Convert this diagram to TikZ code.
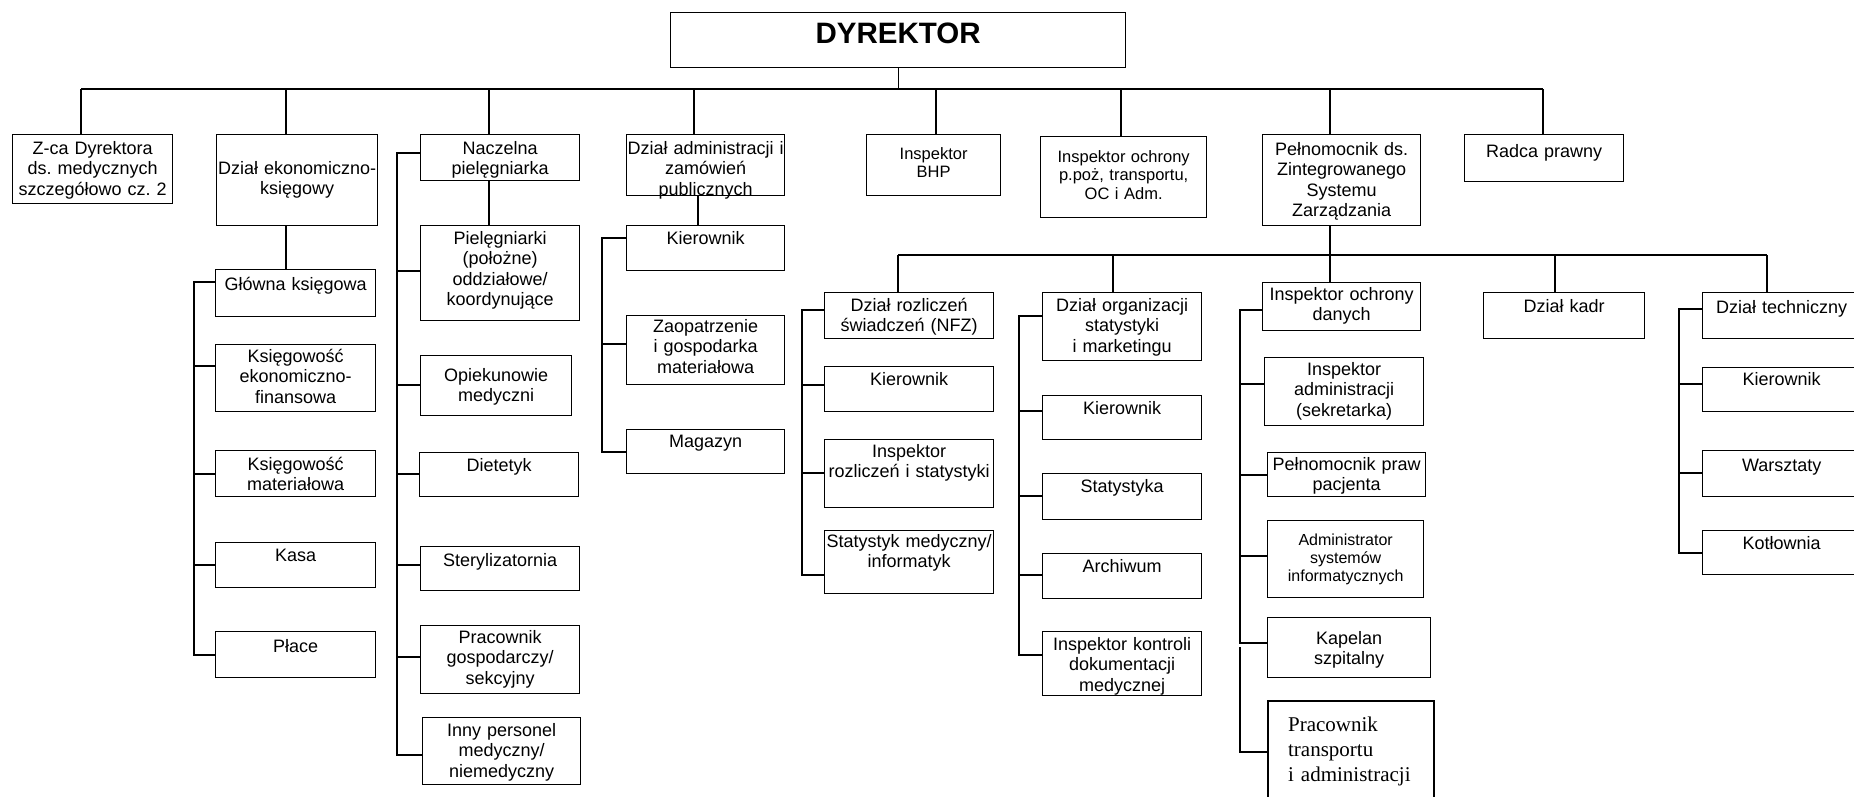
\documentclass[tikz,border=0pt]{standalone}
\usepackage{fontspec}
\setmainfont{Liberation Sans}
\newfontfamily\timesfam{Liberation Serif}
\frenchspacing
\tikzset{
  unit/.style n args={3}{draw, line width=1.3pt, inner sep=0pt, anchor=north west,
    align=center, font=\fontsize{18}{20.5}\selectfont,
    text width=#1, text height=#2, text depth=#3},
  smalltxt/.style={font=\fontsize{16.5}{18.5}\selectfont},
  thickwire/.style={line width=2.2pt},
}
\begin{document}
\begin{tikzpicture}[x=1pt, y=-1pt, line width=1.3pt]
\useasboundingbox (0,0) rectangle (1854,796);
\clip (0,0) rectangle (1854,796);
\node[unit={455}{30.5}{24.5}, font=\fontsize{29.5}{32}\selectfont\bfseries] (dyr) at (670,12) {DYREKTOR};
\node[unit={160}{19.5}{49.5}] (zca) at (12,134) {Z-ca Dyrektora\\ds. medycznych\\szczegółowo cz. 2};
\node[unit={161}{39.5}{51.5}] (ekon) at (216,134) {Dział ekonomiczno-\\księgowy};
\node[unit={159}{19.5}{26.5}] (nacz) at (420,134) {Naczelna\\pielęgniarka};
\node[unit={158}{19.5}{41.5}] (adm) at (626,134) {Dział administracji i\\zamówień\\publicznych};
\node[unit={134}{24.5}{36.5}, smalltxt] (bhp) at (866,134) {Inspektor\\BHP};
\node[unit={166}{25.5}{55.5}, smalltxt] (ochr) at (1040,136) {Inspektor ochrony\\p.poż, transportu,\\OC i Adm.};
\node[unit={158}{20.5}{70.5}] (peln) at (1262,134) {Pełnomocnik ds.\\Zintegrowanego\\Systemu\\Zarządzania};
\node[unit={159}{22.5}{24.5}] (radca) at (1464,134) {Radca prawny};
\coordinate (bus1w) at (81,89);
\coordinate (bus1e) at (1543,89);
\draw (dyr.south) -- (dyr.south |- bus1w);
\draw (bus1w) -- (bus1e);
\draw (zca.north west) ++(69,0) -- ++(0,-45);
\draw (ekon.north west) ++(70,0) -- ++(0,-45);
\draw (nacz.north west) ++(69,0) -- ++(0,-45);
\draw (adm.north west) ++(68,0) -- ++(0,-45);
\draw (bhp.north west) ++(70,0) -- ++(0,-45);
\draw (ochr.north west) ++(81,0) -- ++(0,-47);
\draw (peln.north west) ++(68,0) -- ++(0,-45);
\draw (radca.north west) ++(79,0) -- ++(0,-45);

\node[unit={160}{20.5}{26.5}] (glowna) at (215,269) {Główna księgowa};
\node[unit={160}{17.5}{49.5}] (ksef) at (215,344) {Księgowość\\ekonomiczno-\\finansowa};
\node[unit={160}{19.5}{26.5}] (ksmat) at (215,450) {Księgowość\\materiałowa};
\node[unit={160}{18.5}{26.5}] (kasa) at (215,542) {Kasa};
\node[unit={160}{20.5}{25.5}] (place) at (215,631) {Płace};
\draw (ekon.south west) ++(70,0) -- ++(0,44);
\draw (glowna.north west) ++(0,13) -- ++(-21,0) |- ([yshift=-24pt]place.north west);
\draw (ksef.north west) ++(0,22) -- ++(-21,0);
\draw (ksmat.north west) ++(0,24) -- ++(-21,0);
\draw (kasa.north west) ++(0,23) -- ++(-21,0);

\node[unit={159}{18.5}{76.5}] (pieleg) at (420,225) {Pielęgniarki\\(położne)\\oddziałowe/\\koordynujące};
\node[unit={151}{25.5}{34.5}] (opiek) at (420,355) {Opiekunowie\\medyczni};
\node[unit={159}{18.5}{25.5}] (diet) at (419,452) {Dietetyk};
\node[unit={159}{19.5}{24.5}] (steryl) at (420,546) {Sterylizatornia};
\node[unit={159}{17.5}{50.5}] (gosp) at (420,625) {Pracownik\\gospodarczy/\\sekcyjny};
\node[unit={158}{18.5}{48.5}] (inny) at (422,717) {Inny personel\\medyczny/\\niemedyczny};
\draw (nacz.south west) ++(69,0) -- ++(0,45);
\draw (nacz.north west) ++(0,19) -- ++(-23,0) |- ([yshift=-38pt]inny.north west);
\draw (pieleg.north west) ++(0,46) -- ++(-23,0);
\draw (opiek.north west) ++(0,30) -- ++(-23,0);
\draw (diet.north west) ++(0,22) -- ++(-22,0);
\draw (steryl.north west) ++(0,19) -- ++(-23,0);
\draw (gosp.north west) ++(0,32) -- ++(-23,0);

\node[unit={158}{18.5}{26.5}] (kier1) at (626,225) {Kierownik};
\node[unit={158}{16.5}{52.5}] (zaop) at (626,315) {Zaopatrzenie\\i gospodarka\\materiałowa};
\node[unit={158}{17.5}{26.5}] (mag) at (626,429) {Magazyn};
\draw (adm.south west) ++(72,0) -- ++(0,30);
\draw (kier1.north west) ++(0,13) -- ++(-24,0) |- ([yshift=-23pt]mag.north west);
\draw (zaop.north west) ++(0,29) -- ++(-24,0);

\node[unit={169}{18.5}{27.5}] (rozl) at (824,292) {Dział rozliczeń\\świadczeń (NFZ)};
\node[unit={159}{18.5}{49.5}] (org) at (1042,292) {Dział organizacji\\statystyki\\i marketingu};
\node[unit={158}{17.5}{30.5}] (iod) at (1262,282) {Inspektor ochrony\\danych};
\node[unit={161}{19.5}{26.5}] (kadr) at (1483,292) {Dział kadr};
\node[unit={158}{20.5}{25.5}] (tech) at (1702,292) {Dział techniczny};
\coordinate (bus2w) at (898,255);
\coordinate (bus2e) at (1767,255);
\draw (peln.south west) ++(68,0) -- ++(0,30);
\draw (bus2w) -- (bus2e);
\draw (rozl.north west) ++(74,0) -- ++(0,-37);
\draw (org.north west) ++(71,0) -- ++(0,-37);
\draw (iod.north west) ++(68,0) -- ++(0,-27);
\draw (kadr.north west) ++(72,0) -- ++(0,-37);
\draw (tech.north west) ++(65,0) -- ++(0,-37);

\node[unit={169}{18.5}{26.5}] (kier2) at (824,366) {Kierownik};
\node[unit={169}{17.5}{50.5}] (insrozl) at (824,439) {Inspektor\\rozliczeń i statystyki};
\node[unit={169}{16.5}{46.5}] (statmed) at (824,530) {Statystyk medyczny/\\informatyk};
\draw (rozl.north west) ++(0,18) -- ++(-22,0) |- ([yshift=-45pt]statmed.north west);
\draw (kier2.north west) ++(0,19) -- ++(-22,0);
\draw (insrozl.north west) ++(0,34) -- ++(-22,0);

\node[unit={159}{18.5}{25.5}] (kier3) at (1042,395) {Kierownik};
\node[unit={159}{18.5}{27.5}] (stat) at (1042,473) {Statystyka};
\node[unit={159}{18.5}{26.5}] (arch) at (1042,553) {Archiwum};
\node[unit={159}{18.5}{45.5}] (inskontr) at (1042,631) {Inspektor kontroli\\dokumentacji\\medycznej};
\draw (org.north west) ++(0,24) -- ++(-23,0) |- ([yshift=-24pt]inskontr.north west);
\draw (kier3.north west) ++(0,16) -- ++(-23,0);
\draw (stat.north west) ++(0,23) -- ++(-23,0);
\draw (arch.north west) ++(0,22) -- ++(-23,0);

\node[unit={159}{17.5}{50.5}] (insadm) at (1264,357) {Inspektor\\administracji\\(sekretarka)};
\node[unit={158}{17.5}{26.5}] (pelpr) at (1267,452) {Pełnomocnik praw\\pacjenta};
\node[unit={156}{25}{52}, font=\fontsize{16}{18}\selectfont] (admsys) at (1267,520) {Administrator\\systemów\\informatycznych};
\node[unit={163}{26.5}{33.5}] (kap) at (1267,617) {Kapelan\\szpitalny};
\node[unit={126}{30}{70}, inner xsep=20pt, align=left, thickwire, font=\timesfam\fontsize{21}{25}\selectfont] (prtr) at (1267,700) {Pracownik\\transportu\\i administracji};
\draw (iod.north west) ++(0,28) -- ++(-22,0) |- ([yshift=-26pt]kap.north west);
\draw (insadm.north west) ++(0,27) -- ++(-24,0);
\draw (pelpr.north west) ++(0,23) -- ++(-27,0);
\draw (admsys.north west) ++(0,36) -- ++(-27,0);
\draw[thickwire] (prtr.north west) ++(0,52) -| ++(-27,-105);

\node[unit={158}{17.5}{26.5}] (kier4) at (1702,367) {Kierownik};
\node[unit={158}{20.5}{25.5}] (warsz) at (1702,450) {Warsztaty};
\node[unit={158}{18.5}{25.5}] (kotl) at (1702,530) {Kotłownia};
\draw (tech.north west) ++(0,17) -- ++(-23,0) |- ([yshift=-23pt]kotl.north west);
\draw (kier4.north west) ++(0,17) -- ++(-23,0);
\draw (warsz.north west) ++(0,23) -- ++(-23,0);
\end{tikzpicture}
\end{document}
